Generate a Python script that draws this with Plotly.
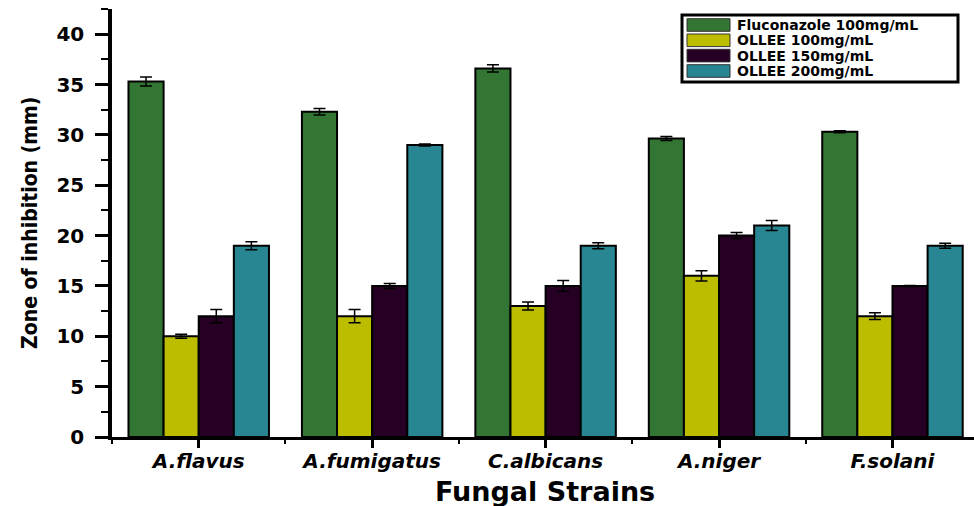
import plotly.graph_objects as go

# Fungal strains tested and zone-of-inhibition results (mean, error)
strains = ["A.flavus", "A.fumigatus", "C.albicans", "A.niger", "F.solani"]
series_names = ["Fluconazole 100mg/mL", "OLLEE 100mg/mL", "OLLEE 150mg/mL", "OLLEE 200mg/mL"]

fluconazole_100 = [35.3, 32.3, 36.6, 29.65, 30.3]
fluconazole_100_err = [0.45, 0.33, 0.36, 0.2, 0.1]

ollee_100 = [10.0, 12.0, 13.0, 16.0, 12.0]
ollee_100_err = [0.2, 0.65, 0.4, 0.5, 0.33]

ollee_150 = [12.0, 15.0, 15.0, 20.0, 15.0]
ollee_150_err = [0.65, 0.25, 0.53, 0.3, 0.05]

ollee_200 = [19.0, 29.0, 19.0, 21.0, 19.0]
ollee_200_err = [0.4, 0.1, 0.3, 0.5, 0.25]

values = [fluconazole_100, ollee_100, ollee_150, ollee_200]
errors = [fluconazole_100_err, ollee_100_err, ollee_150_err, ollee_200_err]
colors = ["#337533", "#BDBD00", "#260024", "#288592"]

x_pos = list(range(len(strains)))

fig = go.Figure()
for name, vals, errs, col in zip(series_names, values, errors, colors):
    fig.add_trace(go.Bar(
        x=x_pos, y=vals, name=name,
        marker=dict(color=col, line=dict(color="black", width=2)),
        error_y=dict(type="data", array=errs, visible=True,
                     color="black", thickness=1.5, width=6),
        showlegend=False,
    ))

# Figure geometry (pixels)
W, H = 974, 506
ML, MR, MT, MB = 112, 0, 9, 69
PW, PH = W - ML - MR, H - MT - MB


def px_x(px):
    return (px - ML) / PW


def px_y(py):
    return (H - MB - py) / PH


# Hand-drawn legend box with large swatches
shapes = [dict(type="rect", xref="paper", yref="paper",
               x0=px_x(682), x1=px_x(958), y0=px_y(82), y1=px_y(15),
               line=dict(color="black", width=3), fillcolor="white", layer="above")]
annotations = []
row_centers = [25, 40.3, 55.6, 71]
for name, col, cy in zip(series_names, colors, row_centers):
    shapes.append(dict(type="rect", xref="paper", yref="paper",
                       x0=px_x(687), x1=px_x(730), y0=px_y(cy + 6.3), y1=px_y(cy - 6.3),
                       line=dict(color="#333333", width=1), fillcolor=col, layer="above"))
    annotations.append(dict(xref="paper", yref="paper", x=px_x(736), y=px_y(cy),
                            xanchor="left", yanchor="middle", showarrow=False,
                            borderpad=0, text=name,
                            font=dict(family="DejaVu Sans", size=14, color="black", weight="bold")))

# Axis titles
annotations.append(dict(xref="paper", yref="paper", x=px_x(30), y=px_y(223),
                        xanchor="center", yanchor="middle", showarrow=False,
                        textangle=-90, text="Zone of inhibition (mm)",
                        font=dict(family="DejaVu Sans Condensed, sans-serif",
                                  size=21, color="black", weight="bold")))
annotations.append(dict(xref="paper", yref="paper", x=px_x(545), y=px_y(492),
                        xanchor="center", yanchor="middle", showarrow=False,
                        text="Fungal Strains",
                        font=dict(family="DejaVu Sans", size=27, color="black", weight="bold")))

fig.update_layout(
    width=W, height=H,
    margin=dict(l=ML, r=MR, t=MT, b=MB, pad=0),
    paper_bgcolor="white", plot_bgcolor="white",
    barmode="group", bargap=0.19, bargroupgap=0.0,
    shapes=shapes, annotations=annotations,
    showlegend=False,
)

fig.update_xaxes(
    range=[-0.5, 4.47],
    tickmode="array", tickvals=x_pos, ticktext=strains,
    ticks="outside", ticklen=8, tickwidth=2.5, tickcolor="black",
    minor=dict(tick0=-0.5, dtick=1, ticks="outside", ticklen=4, tickwidth=2, tickcolor="black"),
    showline=True, linecolor="black", linewidth=2.5,
    showgrid=False, zeroline=False,
    ticklabelstandoff=-4,
    tickfont=dict(family="DejaVu Sans", size=20, color="black", weight="bold", style="italic"),
)

fig.update_yaxes(
    range=[0, 42.5],
    tick0=0, dtick=5,
    ticks="outside", ticklen=13, tickwidth=2.5, tickcolor="black",
    minor=dict(tick0=0, dtick=2.5, ticks="outside", ticklen=7, tickwidth=2, tickcolor="black"),
    showline=True, linecolor="black", linewidth=3.5,
    showgrid=False, zeroline=False,
    ticklabelstandoff=7,
    tickfont=dict(family="DejaVu Sans", size=20, color="black", weight="bold"),
)

fig.write_html("out.html")
